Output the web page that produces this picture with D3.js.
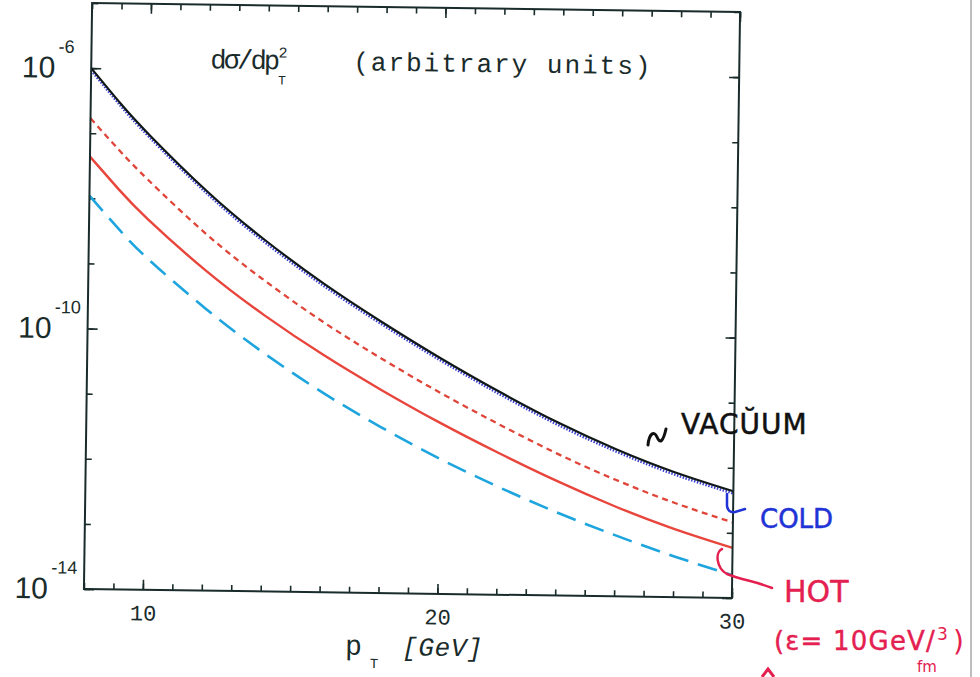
<!DOCTYPE html>
<html>
<head>
<meta charset="utf-8">
<script src="https://cdn.jsdelivr.net/npm/d3@7"></script>
<style>
  html, body { margin: 0; padding: 0; background: #fff; }
  svg { display: block; }
  .axis path.domain { display: none; }
  .axis line { stroke: #1a2b2b; stroke-width: 1.6; }
  .axis text { font-family: "Liberation Mono", monospace; font-size: 22px; fill: #1a2b2b; }
</style>
</head>
<body>
<div id="chart"></div>
<script>
// values, log10 of d sigma / d pT^2
const pT = [8, 9, 10, 12, 14, 16, 18, 20, 22, 24, 26, 28, 30];
const vacuumLog = [-6.00, -6.53, -7.01, -7.87, -8.61, -9.26, -9.84, -10.38, -10.88, -11.34, -11.74, -12.08, -12.36];
const coldLog = [-6.035, -6.565, -7.045, -7.905, -8.645, -9.295, -9.875, -10.415, -10.915, -11.375, -11.775, -12.115, -12.395];
const redDashedLog = [-6.77, -7.26, -7.71, -8.53, -9.23, -9.85, -10.40, -10.91, -11.38, -11.82, -12.21, -12.55, -12.84];
const redSolidLog = [-7.36, -7.86, -8.31, -9.09, -9.76, -10.35, -10.88, -11.37, -11.82, -12.24, -12.62, -12.95, -13.23];
const cyanLog = [-7.96, -8.46, -8.91, -9.67, -10.34, -10.93, -11.45, -11.92, -12.34, -12.72, -13.06, -13.37, -13.65];

const xMinorTicks = d3.range(8, 31, 1);
const xMajorTicks = [10, 20, 30];
const yTicks = [-14, -13, -12, -11, -10, -9, -8, -7, -6, -5];
const yLabelled = [-6, -10, -14];

const margin = { left: 88, top: 7.5 };
const width = 648, height = 586;
const tilt = 0.8; // the scan is a bit rotated

const svg = d3.select('#chart').append('svg')
    .attr('width', 980)
    .attr('height', 677);

// page edge on the right
svg.append('line')
    .attr('x1', 971).attr('x2', 971).attr('y1', 0).attr('y2', 677)
    .attr('stroke', '#a8a8a8').attr('stroke-width', 1.5);

const page = svg.append('g')
    .attr('transform', `rotate(${tilt}, ${margin.left + width / 2}, ${margin.top + height / 2})`);
const chart = page.append('g')
    .attr('transform', `translate(${margin.left}, ${margin.top})`);

const x = d3.scaleLinear().domain([8, 30]).range([0, width]);
const y = d3.scaleLog().domain([1e-14, 1e-5]).range([height, 0]);

// ticks on all four sides, pointing in
chart.append('g').attr('class', 'axis')
    .attr('transform', `translate(0, ${height})`)
    .call(d3.axisBottom(x).tickValues(xMinorTicks).tickSize(-6).tickFormat(''));
chart.append('g').attr('class', 'axis')
    .attr('transform', `translate(0, ${height})`)
    .call(d3.axisBottom(x).tickValues(xMajorTicks).tickSize(-10).tickPadding(15).tickFormat(d3.format('d')));
chart.append('g').attr('class', 'axis')
    .call(d3.axisTop(x).tickValues(xMinorTicks).tickSize(-6).tickFormat(''));
chart.append('g').attr('class', 'axis')
    .call(d3.axisTop(x).tickValues(xMajorTicks).tickSize(-10).tickFormat(''));

const yVals = yTicks.map(e => Math.pow(10, e));
const yMajor = yLabelled.map(e => Math.pow(10, e));
chart.append('g').attr('class', 'axis')
    .call(d3.axisLeft(y).tickValues(yVals).tickSize(-6).tickFormat(''));
chart.append('g').attr('class', 'axis')
    .call(d3.axisLeft(y).tickValues(yMajor).tickSize(-10).tickFormat(''));
chart.append('g').attr('class', 'axis')
    .attr('transform', `translate(${width}, 0)`)
    .call(d3.axisRight(y).tickValues(yVals).tickSize(-6).tickFormat(''));
chart.append('g').attr('class', 'axis')
    .attr('transform', `translate(${width}, 0)`)
    .call(d3.axisRight(y).tickValues(yMajor).tickSize(-10).tickFormat(''));

// 10^n labels
yLabelled.forEach(e => {
    const yy = y(Math.pow(10, e));
    chart.append('text')
        .attr('x', -36).attr('y', yy + 10)
        .attr('text-anchor', 'end')
        .style('font-family', '"Liberation Sans", Arial, sans-serif')
        .style('font-size', '30px').style('fill', '#1a2b2b')
        .text('10');
    chart.append('text')
        .attr('x', -33).attr('y', yy - 15)
        .style('font-family', '"Liberation Sans", Arial, sans-serif')
        .style('font-size', '18px').style('fill', '#1a2b2b')
        .text(String(e));
});

// curves
const line = d3.line()
    .x((d, i) => x(pT[i]))
    .y(d => y(Math.pow(10, d)))
    .curve(d3.curveNatural);

const series = [
    { data: cyanLog, color: '#1ea5de', w: 2.6, dash: '20,10' },
    { data: redSolidLog, color: '#e8453c', w: 2.4, dash: null },
    { data: redDashedLog, color: '#e0453a', w: 2.3, dash: '6,4.5' },
    { data: coldLog, color: '#3a3fd0', w: 2.6, dash: '1.5,1.5' },
    { data: vacuumLog, color: '#111818', w: 2.2, dash: null }
];
series.forEach(s => {
    chart.append('path')
        .datum(s.data)
        .attr('d', line)
        .attr('fill', 'none')
        .attr('stroke', s.color)
        .attr('stroke-width', s.w)
        .attr('stroke-dasharray', s.dash);
});

// frame
chart.append('rect')
    .attr('width', width).attr('height', height)
    .attr('fill', 'none').attr('stroke', '#1a2b2b').attr('stroke-width', 2);

// title
const mono = '"Liberation Mono", "Courier New", monospace';
chart.append('text')
    .attr('x', 119).attr('y', 63.5)
    .style('font-family', mono).style('font-size', '27px')
    .style('letter-spacing', '-2.8px').style('fill', '#1a2b2b')
    .text('dσ/dp');
chart.append('text')
    .attr('x', 187).attr('y', 52)
    .style('font-family', mono).style('font-size', '15px').style('fill', '#1a2b2b')
    .text('2');
chart.append('text')
    .attr('x', 187).attr('y', 79)
    .style('font-family', mono).style('font-size', '13px').style('fill', '#1a2b2b')
    .text('T');
chart.append('text')
    .attr('x', 262).attr('y', 63.5)
    .style('font-family', mono).style('font-size', '26px')
    .style('letter-spacing', '2px').style('fill', '#1a2b2b')
    .text('(arbitrary units)');

// x axis title
chart.append('text')
    .attr('x', 262).attr('y', 648)
    .style('font-family', mono).style('font-size', '28px').style('fill', '#1a2b2b')
    .text('p');
chart.append('text')
    .attr('x', 287).attr('y', 661)
    .style('font-family', mono).style('font-size', '14px').style('fill', '#1a2b2b')
    .text('T');
chart.append('text')
    .attr('x', 319).attr('y', 648)
    .style('font-family', mono).style('font-size', '26px').style('font-style', 'italic')
    .style('letter-spacing', '0.6px').style('fill', '#1a2b2b')
    .text('[GeV]');

// handwritten notes (on top of the scan)
const hand = '"DejaVu Sans", "Noto Sans", sans-serif';
const notes = svg.append('g');
notes.append('path')
    .attr('d', 'M648,445 C649,434 654,430 657,437 S663,442 666,429')
    .attr('fill', 'none').attr('stroke', '#111').attr('stroke-width', 3).attr('stroke-linecap', 'round');
notes.append('text')
    .attr('x', 681).attr('y', 434)
    .style('font-family', hand).style('font-size', '28px').style('letter-spacing', '1px')
    .style('fill', '#111').style('stroke', '#111').style('stroke-width', 0.5)
    .text('VACŬUM');

notes.append('path')
    .attr('d', 'M727,494 L727,506 Q728,513 735,512 L745,509')
    .attr('fill', 'none').attr('stroke', '#1f33d6').attr('stroke-width', 2.5).attr('stroke-linecap', 'round');
notes.append('text')
    .attr('x', 760).attr('y', 528)
    .style('font-family', hand).style('font-size', '26px')
    .style('fill', '#1f33d6').style('stroke', '#1f33d6').style('stroke-width', 0.5)
    .text('COLD');

notes.append('path')
    .attr('d', 'M722,549 C715,552 716,568 727,574 C742,580 758,582 772,588')
    .attr('fill', 'none').attr('stroke', '#e42050').attr('stroke-width', 2.5).attr('stroke-linecap', 'round');
notes.append('text')
    .attr('x', 784).attr('y', 602)
    .style('font-family', hand).style('font-size', '30px')
    .style('fill', '#e42050').style('stroke', '#e42050').style('stroke-width', 0.4)
    .text('HOT');
notes.append('text')
    .attr('x', 774).attr('y', 650)
    .style('font-family', hand).style('font-size', '26px').style('letter-spacing', '1.2px')
    .style('fill', '#e42050').style('stroke', '#e42050').style('stroke-width', 0.4)
    .text('(ε= 10GeV/');
notes.append('text')
    .attr('x', 937).attr('y', 640)
    .style('font-family', hand).style('font-size', '17px').style('fill', '#e42050')
    .text('3');
notes.append('text')
    .attr('x', 953).attr('y', 651)
    .style('font-family', hand).style('font-size', '28px').style('fill', '#e42050')
    .text(')');
notes.append('text')
    .attr('x', 917).attr('y', 672)
    .style('font-family', hand).style('font-size', '15px').style('fill', '#e42050')
    .text('fm');
notes.append('path')
    .attr('d', 'M762,677 L768,669 L774,677')
    .attr('fill', 'none').attr('stroke', '#e42050').attr('stroke-width', 3);
</script>
</body>
</html>
